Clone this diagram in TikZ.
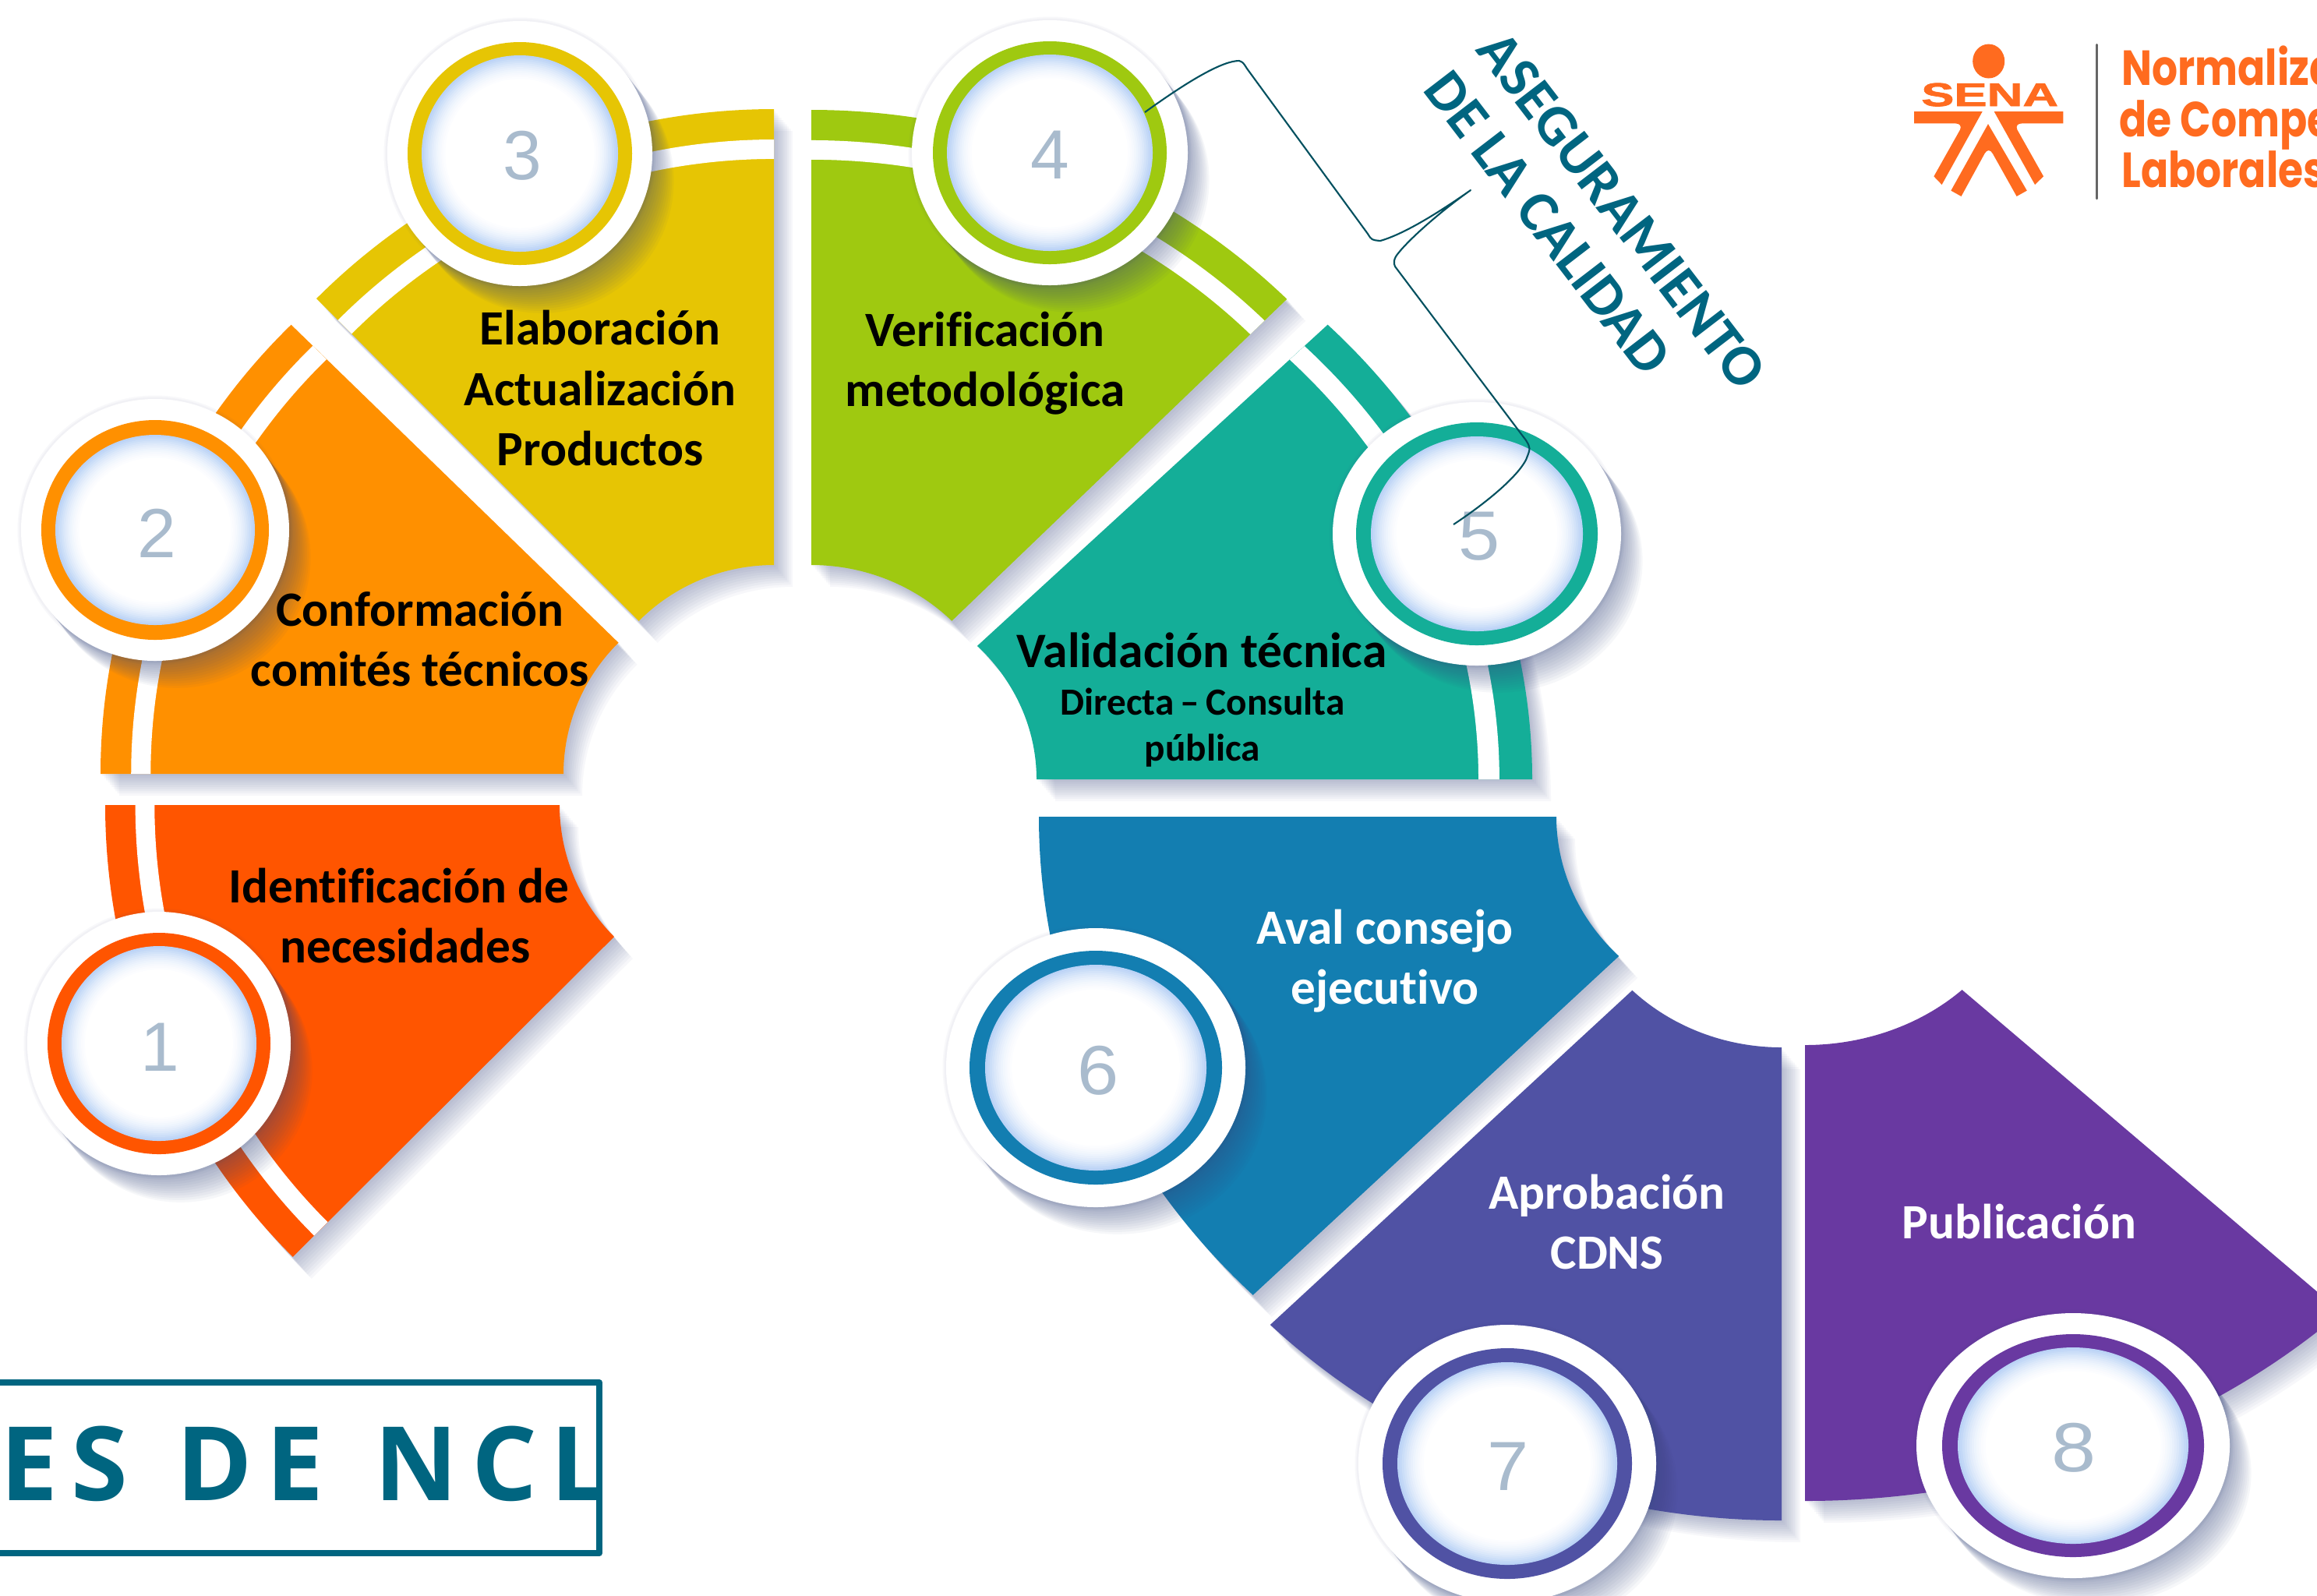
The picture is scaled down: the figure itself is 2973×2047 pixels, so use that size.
\documentclass[tikz,border=0pt]{standalone}
\usepackage{fontspec}
\setmainfont[Ligatures=NoCommon]{Carlito}
\newfontfamily\digitfont{Liberation Sans}
\newfontfamily\senafont[UprightFont=* Bold,FakeBold=1.5]{Liberation Sans}
\newfontfamily\boxfont[LetterSpace=13]{Open Sans}
\newfontfamily\logofont{Poppins}
\definecolor{cA}{HTML}{FF5500}
\definecolor{cB}{HTML}{FF9000}
\definecolor{cC}{HTML}{E6C504}
\definecolor{cD}{HTML}{9FC910}
\definecolor{cE}{HTML}{14AE98}
\definecolor{cF}{HTML}{137EB1}
\definecolor{cG}{HTML}{5052A4}
\definecolor{cH}{HTML}{6939A1}
\definecolor{teal}{HTML}{006580}
\definecolor{wire}{HTML}{00505F}
\definecolor{digitc}{HTML}{A9BBCD}
\definecolor{shadowc}{HTML}{3A4A80}
\definecolor{orbc}{HTML}{BBD3F6}
\definecolor{senac}{HTML}{FF6B1F}
\newcommand{\wpath}[8]{({#1+#3*cos(#7)},{#2+#4*sin(#7)}) arc[start angle=#7,end angle=#8,x radius=#3,y radius=#4] -- ({#1+#5*cos(#8)},{#2+#6*sin(#8)}) arc[start angle=#8,end angle=#7,x radius=#5,y radius=#6] -- cycle}
% cx cy Rx Ry rx ry a1 a2 colour
\newcommand{\wseg}[9]{%
  \foreach \i in {10,9,...,1}{%
    \fill[shift={(\i*2.4,\i*2.8)},shadowc,opacity=.04] \wpath{#1}{#2}{#3}{#4}{#5}{#6}{#7}{#8};}
  \fill[#9] \wpath{#1}{#2}{#3}{#4}{#5}{#6}{#7}{#8};}
% cx cy Rx Ry a1 a2
\newcommand{\wstripe}[6]{\fill[white] \wpath{#1}{#2}{0.953*#3}{0.953*#4}{0.923*#3}{0.923*#4}{#5}{#6};}
% cx cy Wrx Wry Rrx Rry Irx Iry
\newcommand{\orb}[8]{%
  \foreach \i in {12,11,...,1}{%
    \fill[shift={(\i*2.3,\i*2.9)},shadowc,opacity=.045] (#1,#2) ellipse[x radius=#3,y radius=#4];}
  \foreach \w in {9,5}{%
    \draw[shadowc,opacity=.035,line width=\w*0.01cm] (#1,#2) ellipse[x radius=#3,y radius=#4];}
  \fill[white] (#1,#2) ellipse[x radius=#3,y radius=#4];
  \fill[ringcol] (#1,#2) ellipse[x radius=#5,y radius=#6];
  \foreach \f/\m in {1/100,.98/88,.96/76,.94/64,.92/53,.90/43,.88/34,.86/26,.84/19,.82/13,.80/8,.78/4,.76/0}{%
    \fill[orbc!\m!white] (#1,#2) ellipse[x radius=\f*#7,y radius=\f*#8];}}
\tikzset{
  lbl/.style={font=\fontsize{18}{21.9}\selectfont\bfseries,align=center,inner sep=0pt,text=black},
  lblw/.style={lbl,text=white},
  num/.style={font=\digitfont\fontsize{25.4}{25.4}\selectfont,text=digitc,inner sep=0pt,transform shape},
  qual/.style={font=\fontsize{21.2}{25}\selectfont\bfseries,text=teal,rotate=-52.5,inner sep=0pt},
  logotext/.style={font=\logofont\bfseries\fontsize{18}{18}\selectfont,text=senac,anchor=base west,inner sep=0pt,xscale=.82,transform shape},
}
\begin{document}
\begin{tikzpicture}[x=0.01cm,y=-0.01cm]
\path[use as bounding box] (0,0) rectangle (2973,2047);
\clip (0,0) rectangle (2973,2047);
\fill[white] (0,0) rectangle (2973,2047);

% wedges
\wseg{957}{1033}{822}{820}{239}{239}{135}{180}{cA}
\wstripe{957}{1033}{822}{820}{135}{180}
\wseg{964}{993}{835}{815}{241}{238}{180}{225}{cB}
\wstripe{964}{993}{835}{815}{180}{225}
\wseg{993}{970}{830}{830}{245}{245}{225}{270}{cC}
\wstripe{993}{970}{830}{830}{225}{270}
\wseg{1041}{970}{863}{829}{255}{245}{270}{315}{cD}
\wstripe{1041}{970}{863}{829}{270}{315}
\wseg{1070}{1000}{896}{825}{260}{242}{315}{360}{cE}
\wstripe{1070}{1000}{896}{825}{315}{360}
\wseg{2271}{1048}{938}{868}{274}{253}{135}{180}{cF}
\wseg{2286}{1094}{928}{857}{271}{250}{90}{135}{cG}
\wseg{2316}{1099}{973}{827}{285}{242}{45}{90}{cH}

% discs
\colorlet{ringcol}{cA}\orb{204}{1339}{169}{169}{143}{142}{125}{125}
\colorlet{ringcol}{cB}\orb{199}{680}{172}{168}{146}{141}{128}{122}
\colorlet{ringcol}{cC}\orb{667}{197}{170}{170}{144}{143}{126}{126}
\colorlet{ringcol}{cD}\orb{1347}{196}{177}{170}{150}{143}{132}{126}
\colorlet{ringcol}{cE}\orb{1895}{685}{185}{169}{155}{143}{136}{125}
\colorlet{ringcol}{cF}\orb{1406}{1370}{192}{179}{162}{150}{142}{132}
\colorlet{ringcol}{cG}\orb{1934}{1878}{191}{178}{160}{148}{141}{130}
\colorlet{ringcol}{cH}\orb{2660}{1855}{201}{170}{168}{143}{148}{126}

\node[num] (n1) at (205,1344) {1};
\node[num] (n2) at (201,684) {2};
\node[num] (n3) at (670,200) {3};
\node[num] (n4) at (1347,199) {4};
\node[num,xscale=1.07] (n5) at (1898,688) {5};
\node[num,xscale=1.07] (n6) at (1409,1374) {6};
\node[num,xscale=1.07] (n7) at (1935,1882) {7};
\node[num,xscale=1.15] (n8) at (2661,1858) {8};

% labels
\node[lbl] (t1) at (512,1175) {Identificación de\\\hspace*{0.16cm}necesidades};
\node[lbl] (t2) at (539,820) {Conformación\\comités técnicos};
\node[lbl] (t3) at (770,498) {Elaboración\\Actualización\\Productos};
\node[lbl] (t4) at (1264,466) {Verificación\\metodológica};
\node[lbl,font=\fontsize{18.1}{22}\selectfont\bfseries] (t5a) at (1542,834) {Validación técnica};
\node[lbl,font=\fontsize{14}{16.8}\selectfont\bfseries] (t5b) at (1543,934) {Directa\,--\,Consulta\\pública};
\node[lblw] (t6) at (1777,1233) {Aval consejo\\ejecutivo};
\node[lblw] (t7) at (2062,1568) {Aprobación\\CDNS};
\node[lblw] (t8) at (2591,1567) {Publicación};

% bracket
\coordinate (b1) at (1469,144);
\coordinate (tip) at (1887,244);
\coordinate (b4) at (1790,342);
\coordinate (b6) at (1865,673);
\draw[wire,line width=0.6pt,line join=round] (b1) .. controls (1530,100) and (1570,78) .. (1590,78) .. controls (1595,80) .. (1600,88) -- (1755,300) .. controls (1760,308) .. (1771,309) .. controls (1803,300) and (1850,270) .. (tip) .. controls (1850,270) and (1810,305) .. (1794,325) .. controls (1788,332) and (1788,338) .. (b4) -- (1958,565) .. controls (1964,575) .. (1958,590) .. controls (1945,615) and (1900,650) .. (b6);
\node[qual] (qa) at (2081,270) {ASEGURAMIENTO};
\node[qual] (qb) at (1986,286) {DE LA CALIDAD};

% title box
\begin{scope}
\clip (0,1760) rectangle (765,2000);
\node[font=\boxfont\bfseries\fontsize{37.5}{37.5}\selectfont,text=teal,anchor=base west,inner sep=0pt] (title) at (0,1925) {ES\hspace*{3.2pt} DE\hspace*{4pt} NCL};
\end{scope}
\draw[teal,line width=8*0.01cm,line join=round] (-20,1774) -- (769,1774) -- (769,1993) -- (-20,1993);

% logo
\begin{scope}[shift={(2400,0)},x=0.003655cm,y=-0.003333cm]
\fill[senac] (414,236) ellipse[x radius=56,y radius=66];
\fill[senac] (153,430) -- (392,430) -- (250,712) -- (222,680) -- (314,500) .. controls (320,485) and (312,476) .. (298,476) -- (153,476) -- cycle;
\fill[senac] (675,430) -- (433,430) -- (576,712) -- (606,680) -- (514,500) .. controls (508,485) and (516,476) .. (530,476) -- (675,476) -- cycle;
\fill[senac] (412,478) -- (548,735) -- (512,757) -- (428,592) .. controls (420,576) and (408,576) .. (400,592) -- (318,757) -- (282,735) -- cycle;
\node[font=\senafont\fontsize{12}{12}\selectfont,text=senac,inner sep=0pt,xscale=1.5,transform shape,anchor=base] (sena) at (418,409) {SENA};
\draw[gray!80!black,line width=3*0.01cm,line cap=round] (793,172) -- (793,766);
\node[logotext] (l1) at (878,330) {Normaliza};
\node[logotext] (l2) at (870,527) {de Compe};
\node[logotext] (l3) at (878,723) {Laborales};
\end{scope}
\end{tikzpicture}
\end{document}
